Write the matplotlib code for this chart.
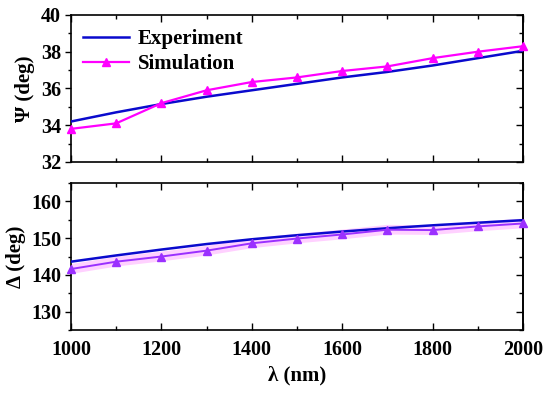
import numpy as np
import matplotlib
matplotlib.use("Agg")
import matplotlib.pyplot as plt
from matplotlib.ticker import MultipleLocator

# ── Data ─────────────────────────────────────────────────────────────────────
wl = [1000, 1100, 1200, 1300, 1400, 1500, 1600, 1700, 1800, 1900, 2000]

psi_exp = [34.2, 34.7, 35.15, 35.55, 35.9, 36.25, 36.6, 36.9, 37.25, 37.65, 38.05]
psi_sim = [33.8, 34.1, 35.2, 35.9, 36.35, 36.6, 36.95, 37.2, 37.65, 38.0, 38.3]

del_exp = [143.6, 145.3, 146.9, 148.4, 149.7, 150.8, 151.8, 152.7, 153.5, 154.2, 154.9]
del_sim = [141.6, 143.6, 145.0, 146.6, 148.6, 149.9, 151.0, 152.3, 152.2, 153.2, 154.0]

plt.rcParams["font.family"] = ["Liberation Serif", "DejaVu Serif"]
plt.rcParams["font.weight"] = "bold"
plt.rcParams["axes.labelweight"] = "bold"
plt.rcParams["font.size"] = 14.5

BLUE = "#0a0acd"
MAG = "#ff00ff"
PURP = "#9b30ff"

fig = plt.figure(figsize=(5.5, 3.94), dpi=100)
ax1 = fig.add_axes([0.129, 0.589, 0.822, 0.373])
ax2 = fig.add_axes([0.129, 0.1624, 0.822, 0.373])


def style(ax, ylo, yhi, major, minor):
    ax.set_xlim(1000, 2000)
    ax.set_ylim(ylo, yhi)
    ax.xaxis.set_major_locator(MultipleLocator(200))
    ax.xaxis.set_minor_locator(MultipleLocator(100))
    ax.yaxis.set_major_locator(MultipleLocator(major))
    ax.yaxis.set_minor_locator(MultipleLocator(minor))
    ax.tick_params(axis="x", which="both", direction="in", top=True, pad=7)
    ax.tick_params(axis="x", which="major", length=5, width=1)
    ax.tick_params(axis="x", which="minor", length=3, width=1)
    ax.tick_params(axis="y", which="major", direction="out", length=4, width=1, pad=3)
    ax.tick_params(axis="y", which="minor", direction="out", length=2.5, width=1)
    for s in ax.spines.values():
        s.set_linewidth(1.2)
    sec = ax.secondary_yaxis("right")
    sec.yaxis.set_major_locator(MultipleLocator(major))
    sec.yaxis.set_minor_locator(MultipleLocator(minor))
    sec.tick_params(which="both", direction="in", labelright=False)
    sec.tick_params(which="major", length=5, width=1)
    sec.tick_params(which="minor", length=3, width=1)
    sec.spines["right"].set_linewidth(1.2)


# ── Top panel: Psi ───────────────────────────────────────────────────────────
ax1.plot(wl, psi_exp, color=BLUE, lw=1.8, label="Experiment", zorder=3)
ax1.plot(wl, psi_sim, color=MAG, lw=1.6, marker="^", ms=6,
         label="Simulation", zorder=4, clip_on=False)
style(ax1, 32, 40, 2, 1)
ax1.tick_params(axis="x", labelbottom=False)
ax1.set_ylabel("Ψ (deg)", fontsize=15, labelpad=4)
ax1.legend(loc="upper left", frameon=False, handlelength=2.2, fontsize=15,
           bbox_to_anchor=(0.0, 0.99), borderaxespad=0.2,
           labelspacing=0.25, handletextpad=0.4)

# ── Bottom panel: Delta ──────────────────────────────────────────────────────
ax2.plot(wl, del_exp, color=BLUE, lw=1.8, zorder=3)
ax2.plot(wl, del_sim, color=MAG, lw=7, alpha=0.18, zorder=2,
         solid_capstyle="butt")
ax2.plot(wl, del_sim, color=PURP, lw=1.4, marker="^", ms=5.5,
         zorder=4, clip_on=False)
style(ax2, 125, 165, 10, 5)
ax2.set_ylabel("Δ (deg)", fontsize=15, labelpad=4)
ax2.set_xlabel("λ (nm)", fontsize=15, labelpad=4)

fig.savefig("out.png", dpi=100)
